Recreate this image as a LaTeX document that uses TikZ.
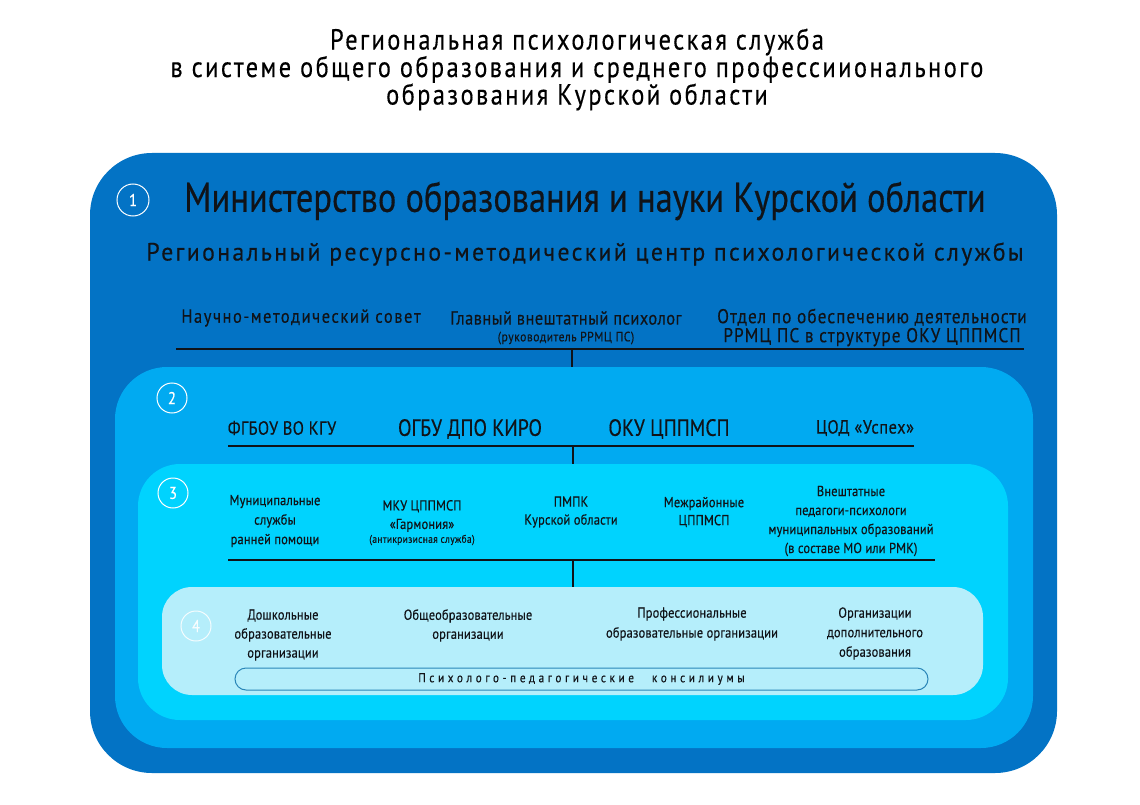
\documentclass[tikz,border=0pt]{standalone}
\usepackage{fontspec}
\setmainfont{PT Sans}
\newcommand\tx[4]{\fontsize{#1}{#2}\selectfont\addfontfeature{FakeStretch=#3,LetterSpace=#4,FakeBold=0.35}}
\definecolor{cA}{HTML}{0373C5}
\definecolor{cB}{HTML}{01AAF1}
\definecolor{cC}{HTML}{00D3FE}
\definecolor{cD}{HTML}{B5EEFB}
\definecolor{ink}{HTML}{101318}
\definecolor{pillc}{HTML}{2A86B8}
\tikzset{
  t/.style={text=ink, inner sep=0pt, align=center},
  numc/.style={circle, draw=white, line width=1pt, text=white, minimum size=32pt, inner sep=0pt, font=\tx{17}{17}{0.86}{0}},
  hline/.style={draw=ink, line width=1.2pt},
}
\begin{document}
\begin{tikzpicture}[x=1pt,y=-1pt]
\useasboundingbox (0,0) rectangle (1140,805);
\fill[white] (0,0) rectangle (1140,805);
% title
\node[t, text=black, font=\tx{29}{27.5}{0.84}{8.5}] (title) at (577,69.5) {Региональная психологическая служба\\в системе общего образования и среднего профессиионального\\образования Курской области};
% boxes
\fill[cA, rounded corners=62pt] (90,153) rectangle (1057,773);
\fill[cB, rounded corners=52pt] (115,367) rectangle (1033,748);
\fill[cC, rounded corners=42pt] (138,464) rectangle (1008,720);
\fill[cD, rounded corners=30pt] (162,587) rectangle (983,695);
% numbers
\node[numc] (n1) at (133,200) {1};
\node[numc, minimum size=30pt] (n2) at (172,398) {2};
\node[numc, minimum size=30pt] (n3) at (173,493) {3};
\node[numc, minimum size=30pt, draw=white!85!cD, text=white!90!cD] (n4) at (196,626) {4};
% level 1
\node[t, font=\tx{41.5}{42}{0.83}{0}] (min) at (585,201) {Министерство образования и науки Курской области};
\node[t, font=\tx{25}{26}{0.95}{9.5}] (rrmc) at (585,254) {Региональный ресурсно-методический центр психологической службы};
\node[t, font=\tx{19}{20}{0.86}{8.5}] (nms) at (301,318) {Научно-методический совет};
\node[t, font=\tx{19}{20}{0.86}{2.7}] (gvp) at (566,318) {Главный внештатный психолог};
\node[t, font=\tx{13.5}{14}{0.86}{4}] (gvps) at (566,338) {(руководитель РРМЦ ПС)};
\node[t, font=\tx{20}{19}{0.86}{5.5}] (otd) at (872,327.5) {Отдел по обеспечению деятельности\\РРМЦ ПС в структуре ОКУ ЦППМСП};
\coordinate (L1a) at (176,349);
\coordinate (L1b) at (1024,349);
\coordinate (L1m) at (572,349);
\coordinate (B2top) at (572,367);
\draw[hline] (L1a) -- (L1b);
\draw[hline] (L1m) -- (B2top);
% level 2
\node[t, font=\tx{19}{20}{0.86}{2}] (kgu) at (282,428) {ФГБОУ ВО КГУ};
\node[t, font=\tx{23.5}{24}{0.84}{0}] (kiro) at (470,429) {ОГБУ ДПО КИРО};
\node[t, font=\tx{23.5}{24}{0.84}{0}] (oku) at (669,429) {ОКУ ЦППМСП};
\node[t, font=\tx{19}{20}{0.86}{3}] (cod) at (865,428) {ЦОД «Успех»};
\coordinate (L2a) at (228,446);
\coordinate (L2b) at (914,446);
\coordinate (L2m) at (573,446);
\coordinate (B3top) at (573,464);
\draw[hline] (L2a) -- (L2b);
\draw[hline] (L2m) -- (B3top);
% level 3
\node[t, font=\tx{14.5}{19.5}{0.86}{1}] (mun) at (275,521) {Муниципальные\\службы\\ранней помощи};
\node[t, font=\tx{14.5}{18.5}{0.86}{1}] (mku) at (422,516) {МКУ ЦППМСП\\«Гармония»};
\node[t, font=\tx{11}{12}{0.86}{3}] (mkus) at (422,540) {(антикризисная служба)};
\node[t, font=\tx{14.5}{18}{0.86}{1}] (pmpk) at (571,512) {ПМПК\\Курской области};
\node[t, font=\tx{14.5}{18}{0.86}{1}] (mezh) at (704,512) {Межрайонные\\ЦППМСП};
\node[t, font=\tx{14.5}{19}{0.86}{1}] (vnesh) at (851,521) {Внештатные\\педагоги-психологи\\муниципальных образований\\(в составе МО или РМК)};
\coordinate (L3a) at (228,560);
\coordinate (L3b) at (935,560);
\coordinate (L3m) at (573,560);
\coordinate (B4top) at (573,587);
\draw[hline] (L3a) -- (L3b);
\draw[hline] (L3m) -- (B4top);
% level 4
\node[t, font=\tx{14.5}{19}{0.86}{1}] (dosh) at (283,635) {Дошкольные\\образовательные\\организации};
\node[t, font=\tx{14.5}{19}{0.86}{1}] (obsh) at (468,625.5) {Общеобразовательные\\организации};
\node[t, font=\tx{14.5}{20}{0.86}{1}] (prof) at (692,624) {Профессиональные\\образовательные организации};
\node[t, font=\tx{14.5}{19.5}{0.86}{1}] (dop) at (875,633.5) {Организации\\дополнительного\\образования};
\node[draw=pillc, line width=1pt, rounded corners=11pt, minimum width=693pt, minimum height=22pt, inner sep=0pt, text=ink, font=\tx{13}{14}{0.86}{28}] (ppk) at (581.5,679) {Психолого-педагогические\hspace{18pt}консилиумы};
\end{tikzpicture}
\end{document}
